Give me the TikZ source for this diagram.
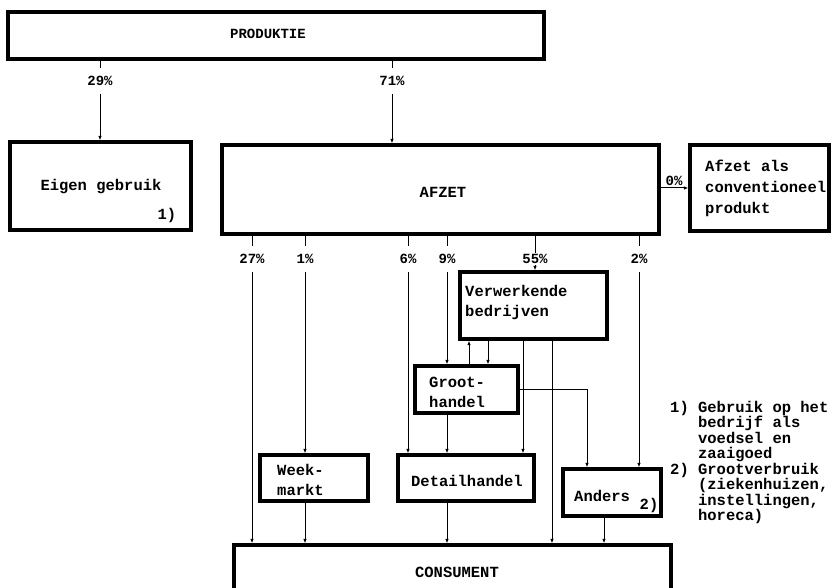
\documentclass[tikz,border=0pt]{standalone}
\usepackage{fontspec}
\setmainfont{Liberation Mono}
\usetikzlibrary{arrows.meta}
\tikzset{
  box/.style={draw, line width=3.2pt, inner sep=0pt},
  txt/.style={font=\fontsize{15.5}{20}\selectfont\bfseries, inner sep=0pt, align=left},
  pct/.style={font=\fontsize{14}{14}\selectfont\bfseries, inner sep=1pt, fill=white, minimum height=26pt},
  ln/.style={line width=1pt},
  arr/.style={line width=1pt, -{Latex[length=4.5pt,width=3.5pt]}},
}
\begin{document}
\begin{tikzpicture}[x=1pt,y=-1pt]
\useasboundingbox (0,0) rectangle (839,588);
% boxes
\node[box, minimum width=536pt, minimum height=47pt] (produktie) at (276,35.5) {};
\node[box, minimum width=181pt, minimum height=88pt] (eigen) at (100.5,186) {};
\node[box, minimum width=437pt, minimum height=89pt] (afzet) at (440.5,189.5) {};
\node[box, minimum width=139pt, minimum height=86pt] (conv) at (759.5,188) {};
\node[box, minimum width=147pt, minimum height=67pt] (verw) at (533.5,305.5) {};
\node[box, minimum width=103pt, minimum height=47pt] (groot) at (466.5,389.5) {};
\node[box, minimum width=108pt, minimum height=46pt] (week) at (314,478) {};
\node[box, minimum width=136pt, minimum height=46pt] (detail) at (466,478) {};
\node[box, minimum width=98pt, minimum height=47pt] (anders) at (612,492.5) {};
\node[box, minimum width=437pt, minimum height=55pt] (consument) at (452.5,572.5) {};
% texts
\node[txt, font=\fontsize{14}{16}\selectfont\bfseries] (tprod) at (268,34) {PRODUKTIE};
\node[txt] (teigen) at (101,187) {Eigen gebruik};
\node[txt] (tfn1) at (167,215) {1)};
\node[txt] (tafzet) at (443,192) {AFZET};
\node[txt, anchor=west, font=\fontsize{15.5}{21}\selectfont\bfseries] (tconv) at (705,188) {Afzet als\\conventioneel\\produkt};
\node[txt, anchor=west] (tverw) at (465,302) {Verwerkende\\bedrijven};
\node[txt, anchor=west] (tgroot) at (429,392) {Groot-\\handel};
\node[txt, anchor=west] (tweek) at (277,480) {Week-\\markt};
\node[txt] (tdetail) at (467,481) {Detailhandel};
\node[txt, anchor=west] (tanders) at (574,496) {Anders};
\node[txt] (tfn2) at (649,505) {2)};
\node[txt] (tcons) at (457,572) {CONSUMENT};
\node[txt, anchor=north west, font=\fontsize{15.5}{15.5}\selectfont\bfseries] (notes) at (670,401) {1) Gebruik op het\\\phantom{1) }bedrijf als\\\phantom{1) }voedsel en\\\phantom{1) }zaaigoed\\2) Grootverbruik\\\phantom{2) }(ziekenhuizen,\\\phantom{2) }instellingen,\\\phantom{2) }horeca)};
% percentage labels
\node[pct] (l29) at (100,81) {29\%};
\node[pct] (l71) at (392,81) {71\%};
\node[pct] (l27) at (252,259) {27\%};
\node[pct] (l1) at (305,259) {1\%};
\node[pct] (l6) at (408,259) {6\%};
\node[pct] (l9) at (447,259) {9\%};
\node[pct, minimum height=0pt] (l55) at (535,259) {55\%};
\node[pct] (l2) at (639,259) {2\%};
\node[font=\fontsize{14}{14}\selectfont\bfseries, inner sep=1pt, anchor=south] (l0) at (674,187) {0\%};
% helper coordinates
\coordinate (cu) at (469,0);
\coordinate (cd) at (488,0);
\coordinate (cdet) at (523,0);
\coordinate (ccon) at (552,0);
\coordinate (cand) at (587,0);
\coordinate (cans) at (604,0);
% connectors: produktie
\draw[ln] (l29 |- produktie.south) -- (l29.north);
\draw[arr] (l29.south) -- (l29 |- eigen.north);
\draw[ln] (l71 |- produktie.south) -- (l71.north);
\draw[arr] (l71.south) -- (l71 |- afzet.north);
% afzet -> conventioneel
\draw[arr] (conv.west -| afzet.east) -- (conv.west);
% afzet downwards
\draw[ln] (l27 |- afzet.south) -- (l27.north);
\draw[arr] (l27.south) -- (l27 |- consument.north);
\draw[ln] (l1 |- afzet.south) -- (l1.north);
\draw[arr] (l1.south) -- (l1 |- week.north);
\draw[arr] (l1 |- week.south) -- (l1 |- consument.north);
\draw[ln] (l6 |- afzet.south) -- (l6.north);
\draw[arr] (l6.south) -- (l6 |- detail.north);
\draw[ln] (l9 |- afzet.south) -- (l9.north);
\draw[arr] (l9.south) -- (l9 |- groot.north);
\draw[arr] (l9 |- groot.south) -- (l9 |- detail.north);
\draw[arr] (l9 |- detail.south) -- (l9 |- consument.north);
\draw[ln] (l55 |- afzet.south) -- (l55.north);
\draw[arr] (l55.south) -- (l55 |- verw.north);
\draw[ln] (l2 |- afzet.south) -- (l2.north);
\draw[arr] (l2.south) -- (l2 |- anders.north);
% verwerkende / groothandel
\draw[arr] (cu |- groot.north) -- (cu |- verw.south);
\draw[arr] (cd |- verw.south) -- (cd |- groot.north);
\draw[arr] (cdet |- verw.south) -- (cdet |- detail.north);
\draw[arr] (ccon |- verw.south) -- (ccon |- consument.north);
\draw[arr] (groot.east) -| (cand |- anders.north);
\draw[arr] (cans |- anders.south) -- (cans |- consument.north);
\end{tikzpicture}
\end{document}
